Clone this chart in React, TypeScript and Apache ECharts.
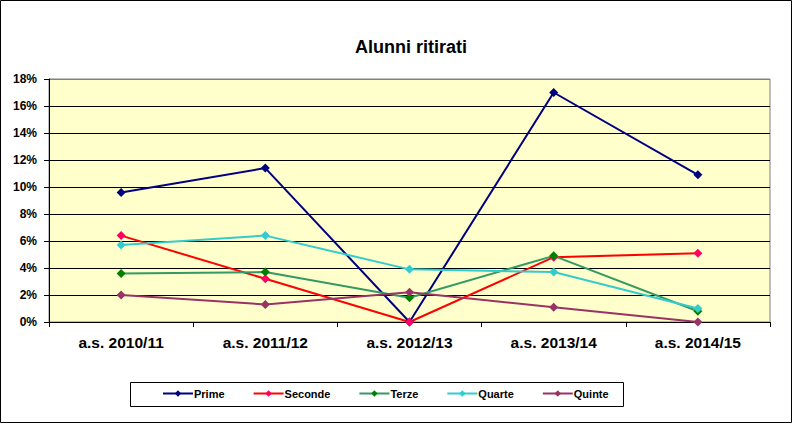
import React, { useEffect, useRef } from "react";
import * as echarts from "echarts";

const categories = ["a.s. 2010/11", "a.s. 2011/12", "a.s. 2012/13", "a.s. 2013/14", "a.s. 2014/15"];
const seriesNames = ["Prime", "Seconde", "Terze", "Quarte", "Quinte"];
const prime = [9.6, 11.4, 0, 17.0, 10.9];
const seconde = [6.4, 3.2, 0, 4.8, 5.1];
const terze = [3.6, 3.7, 1.8, 4.9, 0.8];
const quarte = [5.7, 6.4, 3.9, 3.7, 1.0];
const quinte = [2.0, 1.3, 2.2, 1.1, 0.0];
const lineColors = ["#000080", "#FF0000", "#339966", "#33CCCC", "#993366"];
const markerColors = ["#000080", "#FF0066", "#008000", "#33CCCC", "#993366"];

const FONT = "'Liberation Sans', Arial, sans-serif";

export default function App() {
  const ref = useRef<HTMLDivElement>(null);
  useEffect(() => {
    document.body.style.margin = "0";
    const chart = echarts.init(ref.current!, null, { renderer: "svg" });
    const data = [prime, seconde, terze, quarte, quinte];
    const splitColors = ["#000000", "#000000", "#000000", "#000000", "#000000", "#000000", "#000000", "#000000", "#000000", "#808080"];
    chart.setOption({
      animation: false,
      backgroundColor: "#ffffff",
      title: {
        text: "Alunni ritirati",
        left: 406,
        textAlign: "center",
        top: 33,
        textStyle: { fontFamily: FONT, fontWeight: "bold", fontSize: 18, color: "#000" },
      },
      grid: {
        left: 49,
        right: 23,
        top: 79,
        bottom: 102,
        show: true,
        backgroundColor: "#FFFFCC",
        borderColor: "#808080",
        borderWidth: 1,
      },
      legend: {
        left: 162,
        top: 388,
        padding: 0,
        itemGap: 28,
        itemWidth: 30,
        itemHeight: 8,
        textStyle: { fontFamily: FONT, fontWeight: "bold", fontSize: 11, color: "#000", padding: [0, 0, 0, -4] },
        data: seriesNames,
      },
      xAxis: {
        type: "category",
        data: categories,
        boundaryGap: true,
        axisLine: { lineStyle: { color: "#000", width: 1 } },
        axisTick: { show: true, alignWithLabel: false, length: 5, lineStyle: { color: "#000" } },
        axisLabel: { fontFamily: FONT, fontWeight: "bold", fontSize: 15.5, color: "#000", margin: 12 },
      },
      yAxis: {
        type: "value",
        min: 0,
        max: 18,
        interval: 2,
        axisLine: { show: true, lineStyle: { color: "#000", width: 1 } },
        axisTick: { show: true, length: 5, lineStyle: { color: "#000" } },
        axisLabel: {
          fontFamily: FONT,
          fontWeight: "bold",
          fontSize: 12,
          color: "#000",
          margin: 12,
          formatter: (v: number) => v + "%",
        },
        splitLine: { show: true, lineStyle: { color: splitColors, width: 1 } },
      },
      series: seriesNames.map((name, i) => ({
        name,
        type: "line",
        data: data[i],
        symbol: "diamond",
        symbolSize: 9,
        lineStyle: { color: lineColors[i], width: 2 },
        itemStyle: { color: markerColors[i] },
      })),
      graphic: [
        {
          type: "rect",
          shape: { x: 0.5, y: 0.5, width: 791, height: 422 },
          style: { fill: "none", stroke: "#000", lineWidth: 1 },
          silent: true,
        },
        {
          type: "rect",
          shape: { x: 130.5, y: 382.5, width: 493, height: 24 },
          style: { fill: "none", stroke: "#000", lineWidth: 1 },
          silent: true,
        },
      ],
    });
    return () => chart.dispose();
  }, []);
  return <div ref={ref} style={{ width: 793, height: 424 }} />;
}
